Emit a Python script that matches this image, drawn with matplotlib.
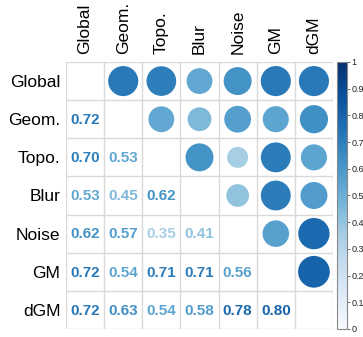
import numpy as np
import matplotlib
matplotlib.use("Agg")
import matplotlib.pyplot as plt
from matplotlib.patches import Circle
from matplotlib.colors import Normalize

plt.rcParams['font.family'] = ['Liberation Sans', 'DejaVu Sans']

# Variables and lower-triangle correlations (row i, columns 0..i-1)
labels = ['Global', 'Geom.', 'Topo.', 'Blur', 'Noise', 'GM', 'dGM']
lower = [
    [],
    [0.72],
    [0.70, 0.53],
    [0.53, 0.45, 0.62],
    [0.62, 0.57, 0.35, 0.41],
    [0.72, 0.54, 0.71, 0.71, 0.56],
    [0.72, 0.63, 0.54, 0.58, 0.78, 0.80],
]

n = len(labels)
corr = np.ones((n, n))
for i, row in enumerate(lower):
    for j, v in enumerate(row):
        corr[i, j] = v
        corr[j, i] = v

cmap = plt.get_cmap('Blues')
norm = Normalize(0, 1)

fig = plt.figure(figsize=(3.63, 3.37), dpi=100)
ax = fig.add_axes([66 / 363, 8 / 337, 267 / 363, 267 / 337])

for i in range(n):
    for j in range(n):
        if i == j:
            continue
        v = corr[i, j]
        color = cmap(norm(v))
        if j > i:
            # circle area proportional to the correlation
            ax.add_patch(Circle((j + 0.5, i + 0.5), 0.465 * np.sqrt(abs(v)),
                                facecolor=color, edgecolor='none', zorder=2))
        else:
            ax.text(j + 0.5, i + 0.52, f'{v:.2f}', ha='center', va='center',
                    fontsize=11, fontweight='bold', color=color, zorder=3)

# light grid around the cells
for k in range(n + 1):
    ax.axhline(k, color='#d9d9d9', lw=1, zorder=1)
    ax.axvline(k, color='#d9d9d9', lw=1, zorder=1)

ax.set_xlim(0, n)
ax.set_ylim(n, 0)
for s in ax.spines.values():
    s.set_visible(False)

ax.xaxis.tick_top()
ax.set_xticks(np.arange(n) + 0.5)
ax.set_xticklabels(labels, rotation=90, fontsize=12.5)
ax.set_yticks(np.arange(n) + 0.5)
ax.set_yticklabels(labels, fontsize=12.5)
ax.tick_params(axis='x', length=0, pad=6)
ax.tick_params(axis='y', length=0, pad=4)

# colour bar on the right
cax = fig.add_axes([337 / 363, 8 / 337, 10 / 363, 267 / 337])
sm = matplotlib.cm.ScalarMappable(norm=norm, cmap=cmap)
cb = fig.colorbar(sm, cax=cax)
cb.set_ticks(np.round(np.arange(0, 1.01, 0.1), 1))
cb.set_ticklabels(['0'] + [f'{t:.1f}' for t in np.arange(0.1, 0.95, 0.1)] + ['1'])
cb.outline.set_edgecolor('#888888')
cb.outline.set_linewidth(0.8)
cax.tick_params(labelsize=6.5, length=2, width=0.6, color='#555555', pad=1,
                labelcolor='#222222')

fig.savefig('out.png', dpi=100)
